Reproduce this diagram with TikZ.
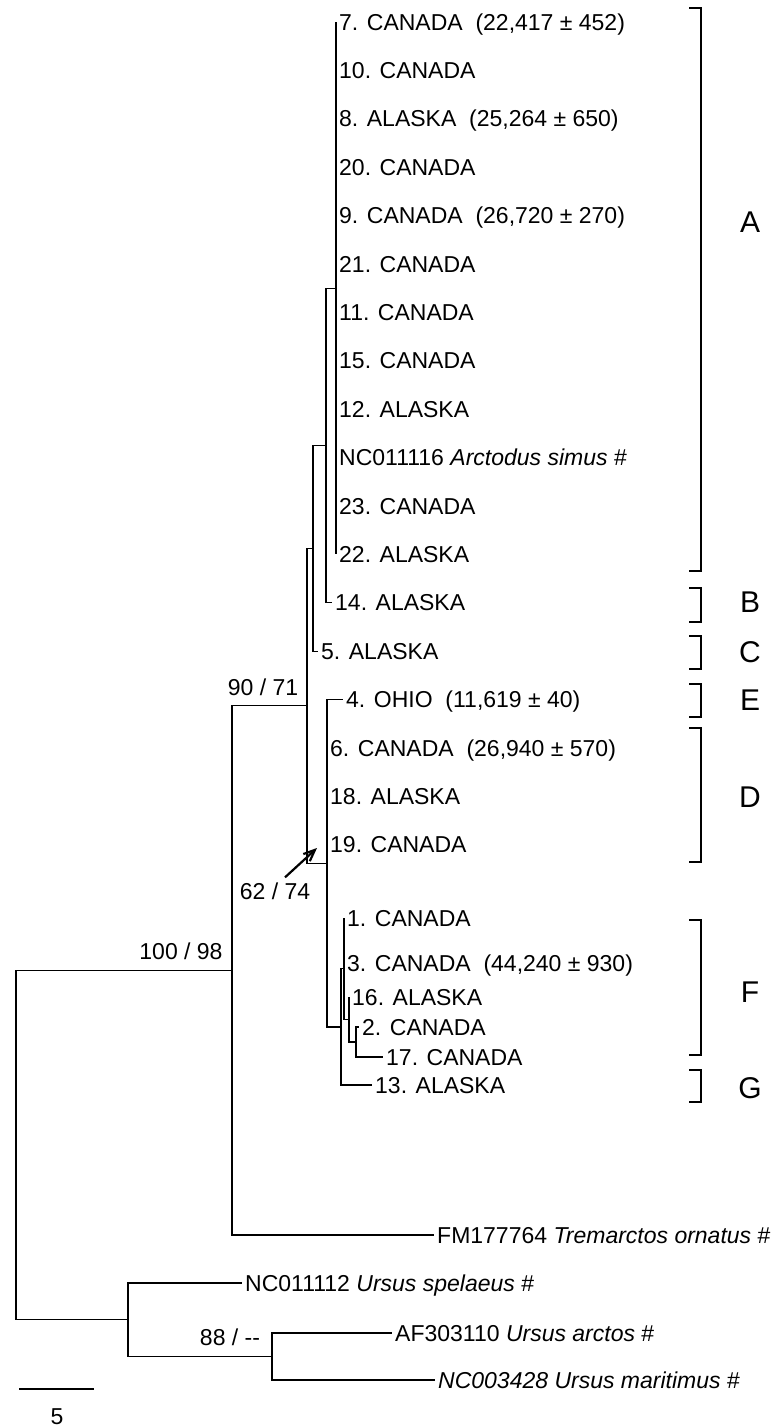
\documentclass[tikz,border=0pt]{standalone}
\usepackage{fontspec}
\setmainfont{Liberation Sans}
\usepackage{tikz}
\usetikzlibrary{arrows.meta}

\newcommand{\leaffont}{\fontsize{23}{27}\selectfont}
\newcommand{\cladefont}{\fontsize{30}{36}\selectfont}

\begin{document}
\begin{tikzpicture}[
    x=1pt, y=-1pt,
    leaf/.style={anchor=west, inner sep=0pt, inner xsep=3pt, text height=16pt, text depth=0pt, font=\leaffont},
    boot/.style={inner sep=0pt, font=\leaffont},
    br/.style={line width=1.2pt},
    clade/.style={line width=1.2pt},
    letter/.style={inner sep=0pt, font=\cladefont},
    arr/.style={-{Straight Barb[length=4mm, width=3.4mm]}, line width=2.2pt}
]
\useasboundingbox (0,0) rectangle (778,1428);

% leaves
\node[leaf] (t7) at (336,22) {7. CANADA\ \ (22,417 ± 452)};
\node[leaf] (t10) at (336,70.4) {10. CANADA};
\node[leaf] (t8) at (336,118.8) {8. ALASKA\ \ (25,264 ± 650)};
\node[leaf] (t20) at (336,167.2) {20. CANADA};
\node[leaf] (t9) at (336,215.6) {9. CANADA\ \ (26,720 ± 270)};
\node[leaf] (t21) at (336,264) {21. CANADA};
\node[leaf] (t11) at (336,312.4) {11. CANADA};
\node[leaf] (t15) at (336,360.8) {15. CANADA};
\node[leaf] (t12) at (336,409.2) {12. ALASKA};
\node[leaf] (tAs) at (336,457.6) {NC011116 \textit{Arctodus simus} \#};
\node[leaf] (t23) at (336,506) {23. CANADA};
\node[leaf] (t22) at (336,554.4) {22. ALASKA};
\node[leaf] (t14) at (332,602.8) {14. ALASKA};
\node[leaf] (t5) at (318,651.2) {5. ALASKA};
\node[leaf] (t4) at (343,699.6) {4. OHIO\ \ (11,619 ± 40)};
\node[leaf] (t6) at (327,748) {6. CANADA\ \ (26,940 ± 570)};
\node[leaf] (t18) at (327,796.4) {18. ALASKA};
\node[leaf] (t19) at (327,844.8) {19. CANADA};
\node[leaf] (t1) at (344,918) {1. CANADA};
\node[leaf] (t3) at (344,963) {3. CANADA\ \ (44,240 ± 930)};
\node[leaf] (t16) at (349,997) {16. ALASKA};
\node[leaf] (t2) at (359,1027) {2. CANADA};
\node[leaf] (t17) at (383,1057) {17. CANADA};
\node[leaf] (t13) at (372,1085) {13. ALASKA};
\node[leaf] (tTo) at (434,1235) {FM177764 \textit{Tremarctos ornatus} \#};
\node[leaf] (tUs) at (242,1283) {NC011112 \textit{Ursus spelaeus} \#};
\node[leaf] (tUa) at (392,1333) {AF303110 \textit{Ursus arctos} \#};
\node[leaf] (tUm) at (435,1380) {\textit{NC003428 Ursus maritimus} \#};

% internal nodes
\coordinate (nA) at (336,288.2);
\coordinate (nAB) at (326,445.5);
\coordinate (nABC) at (313,548.4);
\coordinate (n2x17) at (356,1042);
\coordinate (n16) at (349,1019.5);
\coordinate (nF) at (344,968.8);
\coordinate (nFG) at (341,1026.9);
\coordinate (nDEFG) at (327,863.3);
\coordinate (nIn) at (307,705.8);
\coordinate (nAll) at (232,970.4);
\coordinate (nU2) at (272,1356.5);
\coordinate (nU) at (128,1319.8);
\coordinate (root) at (16,1145);

% branches
\draw[br] (nA) |- (t7.west) (nA) |- (t10.west) (nA) |- (t8.west) (nA) |- (t20.west)
          (nA) |- (t9.west) (nA) |- (t21.west) (nA) |- (t11.west) (nA) |- (t15.west)
          (nA) |- (t12.west) (nA) |- (tAs.west) (nA) |- (t23.west) (nA) |- (t22.west);
\draw[br] (nAB) |- (nA) (nAB) |- (t14.west);
\draw[br] (nABC) |- (nAB) (nABC) |- (t5.west);
\draw[br] (nIn) |- (nABC) (nIn) |- (nDEFG);
\draw[br] (nDEFG) |- (t4.west) (nDEFG) |- (t6.west) (nDEFG) |- (t18.west)
          (nDEFG) |- (t19.west) (nDEFG) |- (nFG);
\draw[br] (nFG) |- (nF) (nFG) |- (t13.west);
\draw[br] (nF) |- (t1.west) (nF) |- (t3.west) (nF) |- (n16);
\draw[br] (n16) |- (t16.west) (n16) |- (n2x17);
\draw[br] (n2x17) |- (t2.west) (n2x17) |- (t17.west);
\draw[br] (nAll) |- (nIn) (nAll) |- (tTo.west);
\draw[br] (nU2) |- (tUa.west) (nU2) |- (tUm.west);
\draw[br] (nU) |- (tUs.west) (nU) |- (nU2);
\draw[br] (root) |- (nAll) (root) |- (nU);

% support values
\node[boot] (bs100) at (181,951) {100 / 98};
\node[boot] (bs90) at (263,687) {90 / 71};
\node[boot] (bs62) at (275,891) {62 / 74};
\node[boot] (bs88) at (230,1337) {88 / {-}{-}};
\coordinate (tip) at (317,848);
\draw[arr] ([xshift=10pt,yshift=5pt]bs62.north) -- (tip);

% scale bar
\coordinate (sb0) at (19,1389);
\coordinate (sb1) at (94,1389);
\draw[br] (sb0) -- (sb1);
\node[boot] (sb) at (57,1417) {5};

% clade brackets
\draw[clade] (689,8) -| (701,571) -- (689,571);
\draw[clade] (689,588) -| (701,622) -- (689,622);
\draw[clade] (689,636) -| (701,669) -- (689,669);
\draw[clade] (689,684) -| (701,717) -- (689,717);
\draw[clade] (689,728) -| (701,862) -- (689,862);
\draw[clade] (689,920) -| (701,1055) -- (689,1055);
\draw[clade] (689,1070) -| (701,1102) -- (689,1102);
\node[letter] (cA) at (750,222) {A};
\node[letter] (cB) at (750,602) {B};
\node[letter] (cC) at (750,652) {C};
\node[letter] (cE) at (750,700) {E};
\node[letter] (cD) at (750,797) {D};
\node[letter] (cF) at (750,992) {F};
\node[letter] (cG) at (750,1088) {G};
\end{tikzpicture}
\end{document}
